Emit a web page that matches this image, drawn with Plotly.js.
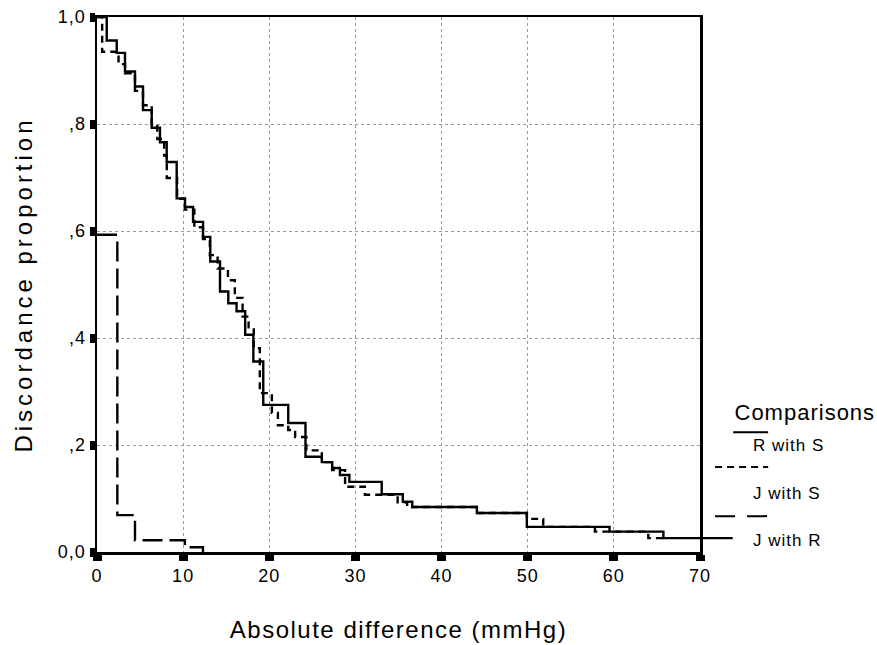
<!DOCTYPE html>
<html>
<head>
<meta charset="utf-8">
<script src="https://cdn.plot.ly/plotly-3.0.1.min.js"></script>
<style>
html,body{margin:0;padding:0;background:#fff;}
#chart{width:877px;height:645px;}
#chart .xtitle{letter-spacing:1.5px;}
#chart .ytitle{letter-spacing:4px;}
#chart .xtick text, #chart .ytick text{letter-spacing:1px;}
#chart .annotation-text{letter-spacing:1px;}
</style>
</head>
<body>
<div id="chart"></div>
<script>
// R with S (solid)
const rsX = [0, 1.13, 2.29, 3.25, 4.41, 5.34, 6.35, 7.31, 8.09, 9.25, 10.22, 11.15, 12.31, 13.15, 14.28, 15.24, 16.2, 17.2, 18.15, 19.3, 22.2, 24.2, 26.1, 27.3, 28.2, 29.3, 33.05, 35.5, 36.6, 44.1, 49.9, 59.5, 65.75, 73.8];
const rsY = [1.0, 0.956, 0.933, 0.898, 0.870, 0.826, 0.793, 0.766, 0.729, 0.661, 0.645, 0.617, 0.589, 0.543, 0.487, 0.465, 0.450, 0.406, 0.356, 0.275, 0.241, 0.178, 0.168, 0.157, 0.144, 0.131, 0.108, 0.094, 0.084, 0.073, 0.047, 0.038, 0.026, 0.026];
// J with S (short dash)
const jsX = [0, 0.6, 2.5, 3.25, 4.41, 5.34, 6.35, 7.0, 7.8, 8.1, 9.3, 10.2, 11.3, 12.3, 13.1, 14.0, 15.2, 16.0, 16.9, 17.6, 18.2, 18.9, 20.3, 21.0, 22.2, 23.0, 24.3, 26.1, 27.3, 28.8, 31.1, 34.9, 36.0, 44.1, 49.9, 51.8, 57.8, 64.0, 66.0];
const jsY = [1.0, 0.935, 0.912, 0.895, 0.862, 0.835, 0.800, 0.772, 0.741, 0.699, 0.660, 0.640, 0.607, 0.585, 0.555, 0.530, 0.508, 0.475, 0.440, 0.420, 0.381, 0.297, 0.260, 0.237, 0.228, 0.215, 0.190, 0.168, 0.153, 0.122, 0.107, 0.093, 0.084, 0.073, 0.062, 0.047, 0.038, 0.026, 0.026];
// J with R (long dash)
const jrX = [0, 2.36, 4.41, 10.2, 12.3, 12.3];
const jrY = [0.593, 0.069, 0.022, 0.009, 0.0, 0.0];

const xTicks = [0, 10, 20, 30, 40, 50, 60, 70];
const yTicks = [0, 0.2, 0.4, 0.6, 0.8, 1.0];
const yTickText = ['0,0', ',2', ',4', ',6', ',8', '1,0'];
const seriesNames = ['R with S', 'J with S', 'J with R'];
const legendTitle = 'Comparisons';

const FONT = 'Liberation Sans, Arial, Helvetica, sans-serif';
const XMAX = 70;
const lineBase = {color: '#000', width: 2.4, shape: 'hv'};

const traces = [
  {x: rsX, y: rsY, mode: 'lines', name: seriesNames[0], line: Object.assign({}, lineBase, {dash: 'solid'}), showlegend: false},
  {x: jsX, y: jsY, mode: 'lines', name: seriesNames[1], line: Object.assign({}, lineBase, {dash: '7px,5px'}), showlegend: false},
  {x: jrX, y: jrY, mode: 'lines', name: seriesNames[2], line: Object.assign({}, lineBase, {dash: '20px,7px'}), showlegend: false}
];

// the last R-with-S step runs past the right axis in the original
const shapes = [];
const lastX = rsX[rsX.length - 1], lastY = rsY[rsY.length - 1];
if (lastX > XMAX) {
  shapes.push({type: 'line', xref: 'paper', yref: 'y', x0: 1, x1: lastX / XMAX, y0: lastY, y1: lastY,
    line: {color: '#000', width: 2.4}});
}

// custom legend (sample line above each label)
const legLineX0 = [1.055, 1.025, 1.025];
const legLineX1 = 1.113;
const legLineY = [0.224, 0.159, 0.067];
const legTextY = [0.200, 0.110, 0.022];
const legDash = ['solid', '7px,5px', '20px,12px'];
const annotations = [];
for (let i = 0; i < 3; i++) {
  shapes.push({type: 'line', xref: 'paper', yref: 'paper', x0: legLineX0[i], x1: legLineX1, y0: legLineY[i], y1: legLineY[i],
    line: {color: '#000', width: 2, dash: legDash[i]}});
  annotations.push({xref: 'paper', yref: 'paper', x: 1.091, y: legTextY[i], xanchor: 'left', yanchor: 'middle',
    text: seriesNames[i], showarrow: false, font: {family: FONT, size: 17, color: '#000'}});
}
annotations.push({xref: 'paper', yref: 'paper', x: 1.063, y: 0.260, xanchor: 'left', yanchor: 'middle',
  text: legendTitle, showarrow: false, font: {family: FONT, size: 22, color: '#000'}});

const layout = {
  width: 877, height: 645,
  margin: {l: 97, r: 177, t: 17, b: 93},
  paper_bgcolor: '#fff', plot_bgcolor: '#fff',
  font: {family: FONT, color: '#000'},
  showlegend: false,
  xaxis: {
    range: [0, XMAX], tickvals: xTicks, ticktext: xTicks.map(String),
    showline: true, linecolor: '#000', linewidth: 2.5, mirror: true,
    ticks: 'outside', ticklen: 6, tickwidth: 9, tickcolor: '#000',
    showgrid: true, gridcolor: '#9a9a9a', gridwidth: 1, griddash: 'dot',
    zeroline: false, tickfont: {family: FONT, size: 18, color: '#000'},
    title: {text: 'Absolute difference (mmHg)', font: {family: FONT, size: 24, color: '#000'}, standoff: 36}
  },
  yaxis: {
    range: [0, 1], tickvals: yTicks, ticktext: yTickText,
    showline: true, linecolor: '#000', linewidth: 2.5, mirror: true,
    ticks: 'outside', ticklen: 5, tickwidth: 9, tickcolor: '#000',
    showgrid: true, gridcolor: '#9a9a9a', gridwidth: 1, griddash: 'dot',
    zeroline: false, tickfont: {family: FONT, size: 18, color: '#000'},
    title: {text: 'Discordance proportion', font: {family: FONT, size: 24, color: '#000'}, standoff: 22}
  },
  shapes: shapes,
  annotations: annotations
};

Plotly.newPlot('chart', traces, layout, {displayModeBar: false, staticPlot: true});
</script>
</body>
</html>
